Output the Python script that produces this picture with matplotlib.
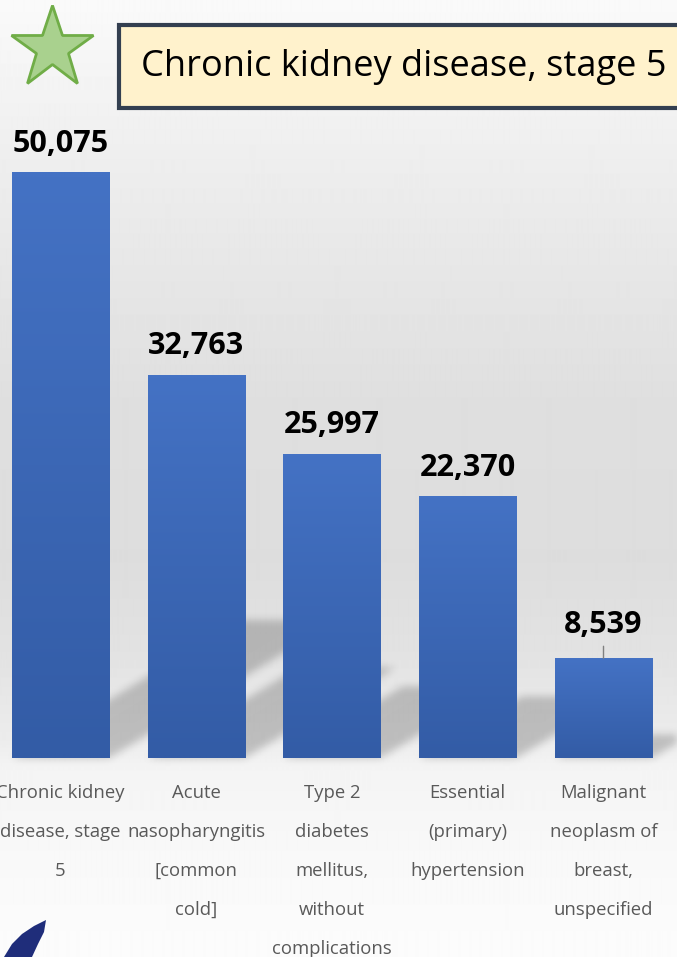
import numpy as np
import matplotlib
matplotlib.use('Agg')
import matplotlib.pyplot as plt
from matplotlib.patches import Polygon, Rectangle

# top 5 diagnoses by number of visits
categories = [
    'Chronic kidney\ndisease, stage\n5',
    'Acute\nnasopharyngitis\n[common\ncold]',
    'Type 2\ndiabetes\nmellitus,\nwithout\ncomplications',
    'Essential\n(primary)\nhypertension',
    'Malignant\nneoplasm of\nbreast,\nunspecified',
]
visits = [50075, 32763, 25997, 22370, 8539]
highlight = 'Chronic kidney disease, stage 5'

W, H = 677, 957
fig = plt.figure(figsize=(W / 100, H / 100), dpi=100)

# slide background: soft vertical grey gradient
bg = fig.add_axes([0, 0, 1, 1], zorder=-10)
grad_y = [0, 25, 130, 250, 400, 560, 650, 740, 770, 850, 957]
grad_v = [250, 248, 240, 232, 223, 221, 226, 236, 244, 248, 252]
col = np.interp(np.arange(H), grad_y, grad_v) / 255
bg.imshow(np.repeat(col[:, None], 2, axis=1), cmap='gray', vmin=0, vmax=1,
          aspect='auto', extent=[0, W, H, 0], interpolation='bilinear')
bg.set_xlim(0, W)
bg.set_ylim(H, 0)
bg.axis('off')

# main bar axes
step = 135.75
ymax = 55000
ax = fig.add_axes([(60.5 - step / 2) / W, 199 / H, 5 * step / W, 642.6 / H])
ax.patch.set_visible(False)
for s in ax.spines.values():
    s.set_visible(False)

x = np.arange(len(visits))
bw = 0.715


def soft_shadow(img, dpi, sigma=4):
    pad = 3 * sigma
    a = np.pad(img[..., 3], pad)
    k = np.exp(-0.5 * (np.arange(-pad, pad + 1) / sigma) ** 2)
    k /= k.sum()
    a = np.apply_along_axis(lambda r: np.convolve(r, k, mode='same'), 0, a)
    a = np.apply_along_axis(lambda r: np.convolve(r, k, mode='same'), 1, a)
    out = np.zeros(a.shape + (4,))
    out[..., 3] = a
    return out, -pad, -pad


# perspective shadows falling back to the right
px_per_unit = 642.6 / ymax
for xi, v in zip(x, visits):
    dy = 0.236 * v
    dx = dy * px_per_unit / 0.6 / step
    sh = Polygon([(xi - bw / 2, 0), (xi + bw / 2, 0),
                  (xi + bw / 2 + dx, dy), (xi - bw / 2 + dx, dy)],
                 closed=True, facecolor='black', edgecolor='none', alpha=0.2,
                 zorder=1, clip_on=False)
    sh.set_agg_filter(soft_shadow)
    ax.add_patch(sh)

bars = ax.bar(x, visits, width=bw, color='#3c66b3', zorder=2)

# vertical gradient fill on each bar
top_c = np.array([0x44, 0x72, 0xc4]) / 255
bot_c = np.array([0x33, 0x5c, 0xa6]) / 255
t = np.linspace(0, 1, 64)[:, None, None]
bar_grad = top_c * (1 - t) + bot_c * t
for b in bars:
    ax.imshow(bar_grad, extent=[b.get_x(), b.get_x() + b.get_width(), 0, b.get_height()],
              aspect='auto', zorder=3, interpolation='bilinear')

ax.set_xlim(-0.5, 4.5)
ax.set_ylim(0, ymax)
ax.set_yticks([])
ax.set_xticks(x)
ax.set_xticklabels(categories, fontsize=13.3, color='#595959', linespacing=2.5,
                   fontfamily='Open Sans')
ax.tick_params(axis='x', length=0, pad=18.5)

# value labels
for xi, v in zip(x, visits):
    off = 18 if v < 10000 else 15
    ax.annotate(f'{v:,}', xy=(xi, v), xytext=(0, off), textcoords='offset points',
                ha='center', va='baseline', fontsize=22, fontweight='bold',
                fontfamily='Open Sans', color='black', zorder=5)
    if v < 10000:
        ax.annotate('', xy=(xi, v), xytext=(0, 8.6), textcoords='offset points',
                    arrowprops=dict(arrowstyle='-', color='#808080', lw=1,
                                    shrinkA=0, shrinkB=0))

# overlay in pixel coords: star, highlight box, logo
ov = fig.add_axes([0, 0, 1, 1], zorder=5)
ov.set_xlim(0, W)
ov.set_ylim(H, 0)
ov.axis('off')
ov.patch.set_visible(False)

ov.plot(52, 48, marker='*', ms=62, mfc='#a9d18e', mec='#70ad47', mew=2)

ov.add_patch(Rectangle((119, 25), 620, 83, facecolor='#fff2cc', edgecolor='#333f50',
                       lw=3, zorder=2))
ov.text(141, 67, highlight, fontsize=26, fontfamily='Open Sans', color='black',
        ha='left', va='center', zorder=3)

ov.add_patch(Polygon([(4, 957), (12, 944), (22, 934), (34, 926), (46, 920),
                      (44, 932), (38, 944), (32, 957)],
                     closed=True, facecolor='#1f2d7a', edgecolor='none'))

fig.savefig('out.png', dpi=100)
